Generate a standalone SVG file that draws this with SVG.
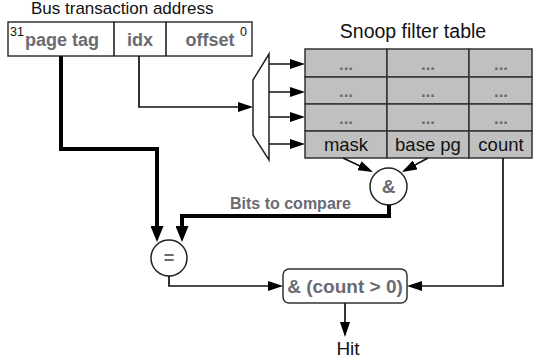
<svg xmlns="http://www.w3.org/2000/svg" width="533" height="362" viewBox="0 0 533 362">
<defs>
<style>
.lbl{font-family:"Liberation Sans",Arial,sans-serif;fill:#111}
.g{font-family:"Liberation Sans",Arial,sans-serif;font-weight:bold;fill:#6a6a72}
.box{fill:#fff;stroke:#333;stroke-width:1.5}
.cell{fill:#c0c0c0;stroke:#333;stroke-width:1.5}
.thin{fill:none;stroke:#111;stroke-width:1.7;marker-end:url(#a)}
.thick{fill:none;stroke:#000;stroke-width:4;marker-end:url(#b)}
.plain{fill:none;stroke:#111;stroke-width:1.5}
</style>
<marker id="a" markerUnits="userSpaceOnUse" markerWidth="15" markerHeight="10" refX="12.5" refY="5" orient="auto"><path d="M0,0 L15,5 L0,10 z" fill="#000"/></marker>
<marker id="b" markerUnits="userSpaceOnUse" markerWidth="16" markerHeight="13" refX="11" refY="6.5" orient="auto"><path d="M0,0 L16,6.5 L0,13 z" fill="#000"/></marker>
</defs>
<rect width="533" height="362" fill="#fff"/>

<g id="address">
<text class="lbl" x="31" y="14" font-size="17">Bus transaction address</text>
<rect class="box" x="8" y="22" width="244" height="34"/>
<line class="plain" x1="114" y1="22" x2="114" y2="56"/>
<line class="plain" x1="166" y1="22" x2="166" y2="56"/>
<text class="lbl" x="10" y="36" font-size="12.5">31</text>
<text class="g" x="62" y="46" font-size="18" text-anchor="middle">page tag</text>
<text class="g" x="140" y="46" font-size="18" text-anchor="middle">idx</text>
<text class="g" x="210" y="46" font-size="18" text-anchor="middle">offset</text>
<text class="lbl" x="240" y="36" font-size="12.5">0</text>
</g>

<g id="mux">
<polygon points="253,80 269,54 269,160 253,135" fill="#fff" stroke="#222" stroke-width="1.5"/>
</g>

<g id="table">
<text class="lbl" x="413" y="38" font-size="19.5" text-anchor="middle">Snoop filter table</text>
<rect class="cell" x="305" y="49" width="82" height="28"/>
<rect class="cell" x="387" y="49" width="82" height="28"/>
<rect class="cell" x="469" y="49" width="63" height="28"/>
<rect class="cell" x="305" y="77" width="82" height="27"/>
<rect class="cell" x="387" y="77" width="82" height="27"/>
<rect class="cell" x="469" y="77" width="63" height="27"/>
<rect class="cell" x="305" y="104" width="82" height="27"/>
<rect class="cell" x="387" y="104" width="82" height="27"/>
<rect class="cell" x="469" y="104" width="63" height="27"/>
<rect class="cell" x="305" y="131" width="82" height="27"/>
<rect class="cell" x="387" y="131" width="82" height="27"/>
<rect class="cell" x="469" y="131" width="63" height="27"/>
<text class="g" x="346" y="70" font-size="17" text-anchor="middle">...</text>
<text class="g" x="428" y="70" font-size="17" text-anchor="middle">...</text>
<text class="g" x="501" y="70" font-size="17" text-anchor="middle">...</text>
<text class="g" x="346" y="97" font-size="17" text-anchor="middle">...</text>
<text class="g" x="428" y="97" font-size="17" text-anchor="middle">...</text>
<text class="g" x="501" y="97" font-size="17" text-anchor="middle">...</text>
<text class="g" x="346" y="124" font-size="17" text-anchor="middle">...</text>
<text class="g" x="428" y="124" font-size="17" text-anchor="middle">...</text>
<text class="g" x="501" y="124" font-size="17" text-anchor="middle">...</text>
<text class="lbl" x="346" y="151" font-size="18.5" text-anchor="middle" fill="#222">mask</text>
<text class="lbl" x="428" y="151" font-size="18.5" text-anchor="middle" fill="#222">base pg</text>
<text class="lbl" x="501" y="151" font-size="18.5" text-anchor="middle" fill="#222">count</text>
</g>

<g id="and">
<circle cx="388.5" cy="186.5" r="18.5" fill="#fff" stroke="#222" stroke-width="1.5"/>
<text class="g" x="388.5" y="193" font-size="19" text-anchor="middle">&amp;</text>
</g>

<g id="eq">
<circle cx="169" cy="258" r="18" fill="#fff" stroke="#222" stroke-width="1.5"/>
<text class="g" x="169" y="264" font-size="18" text-anchor="middle">=</text>
</g>

<g id="result">
<rect class="box" x="283" y="269" width="124" height="34" rx="6"/>
<text class="g" x="345" y="293" font-size="19" text-anchor="middle">&amp; (count &gt; 0)</text>
</g>

<g id="hit">
<text class="lbl" x="348" y="355" font-size="19" text-anchor="middle">Hit</text>
</g>

<g id="connectors">
<path class="thick" d="M61,56 V149 H157 V237"/>
<path class="thin" d="M139,56 V107 H250.5"/>
<path class="thin" d="M269,64 H302.5"/>
<path class="thin" d="M269,92 H302.5"/>
<path class="thin" d="M269,117 H302.5"/>
<path class="thin" d="M269,144 H302.5"/>
<path class="thin" d="M343,158 L370.7,171"/>
<path class="thin" d="M428,158 L404.2,170.8"/>
<path class="thick" d="M389,205 V216 H182 V237"/>
<text class="g" x="230" y="209" font-size="16">Bits to compare</text>
<path class="thin" d="M169,276 V286 H280.5"/>
<path class="thin" d="M503,158 V286 H409.5"/>
<path class="thin" d="M345,303 V334.5"/>
</g>
</svg>
